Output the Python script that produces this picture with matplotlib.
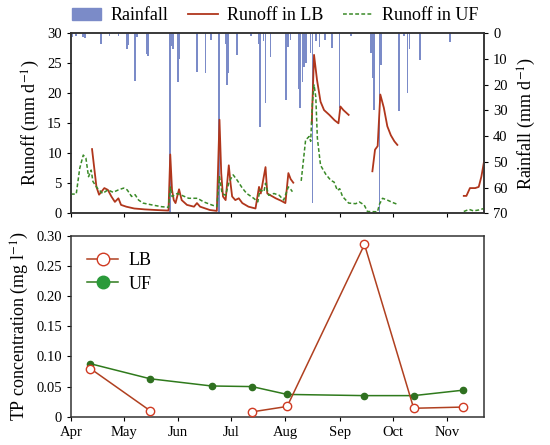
import numpy as np
import pandas as pd
import matplotlib
matplotlib.use("Agg")
import matplotlib.pyplot as plt
import matplotlib.dates as mdates
from matplotlib.lines import Line2D
from matplotlib.patches import Patch

plt.rcParams['font.family'] = ['Liberation Serif', 'DejaVu Serif']
plt.rcParams['mathtext.fontset'] = 'stix'

start = pd.Timestamp('2015-04-01')

# daily rainfall (days after Apr 1, mm)
rain_days = [1, 3, 7, 8, 17, 22, 27, 32, 32.6, 36.5, 37.7, 43, 44, 56.5, 57.4, 58.2, 60.8, 61.6,
             71.7, 76.5, 79.6, 84.3, 87.9, 88.8, 89.6, 94.6, 102.5, 106.7, 107.7, 109.6, 110.7,
             113.6, 122.4, 123.5, 125, 129.7, 130.4, 131.7, 132.6, 133.6, 136.4, 137.4, 139.3,
             141.3, 144.6, 148.6, 152.7, 159.2, 170.7, 171.6, 172.5, 175.5, 176.4, 186.5, 189.5,
             191.5, 192.6, 198.6, 215.5]
rain_mm = [1.5, 1.0, 1.3, 2.0, 4.3, 1.0, 1.0, 6.0, 4.5, 18.4, 1.5, 8.0, 9.0, 75, 5, 6, 19, 10,
           15, 15.5, 2.5, 75, 4, 20, 15.6, 8.4, 1, 4, 36.3, 3, 27,
           9.3, 26, 5.2, 2.5, 21.5, 29, 18.8, 13, 11.7, 7.8, 66, 3,
           5.2, 2.6, 5.8, 29, 1, 7.8, 17.5, 30, 75, 12.3, 30.4, 1,
           23.3, 6, 10.4, 3.2]

# runoff in LB (nan = no data)
lb_days = [12, 14.5, 16, 19, 21, 23, 25, 27, 28.5, 31.5, 36, 42, 48, 55.5, 56.5, 57.5, 58.5, 59.5,
           61.5, 63, 66, 70, 71.7, 73.5, 76.5, 79, 83, 84.5, 85.5, 86.5, 88, 89.8, 90.8, 91.7,
           93.5, 95.5, 97.5, 101, 105, 107, 108, 110.7, 111.7, 113.5, 116.5, 119.5, 122, 123.7,
           125, 126.5, 130,
           137, 138.3, 140, 142, 144, 147, 150, 152.2, 153.3, 155, 158, 165,
           171.5, 173, 174.5, 176, 178, 180, 182, 184, 185.7, 200,
           223.5, 225, 227, 230, 232, 233.5, 235]
lb_runoff = [10.7, 4.4, 3.1, 4.2, 3.9, 2.8, 1.9, 2.5, 1.4, 1.1, 0.8, 0.65, 0.55, 0.45, 9.8, 3.9, 2.2, 1.7,
             4.0, 2.2, 1.4, 1.1, 1.7, 1.1, 0.8, 0.55, 0.4, 15.6, 6.7, 2.8, 2.2, 8.0, 5.0, 2.8,
             2.2, 2.5, 1.7, 1.1, 0.8, 4.4, 3.3, 7.7, 3.3, 3.0, 2.5, 2.1, 1.7, 6.7,
             5.7, 5.1, np.nan,
             15.0, 26.4, 22.2, 18.6, 17.2, 16.4, 15.5, 15.0, 17.8, 17.2, 16.4, np.nan,
             7.0, 10.6, 11.2, 19.8, 17.6, 14.5, 13.0, 12.0, 11.4, np.nan,
             2.9, 2.9, 4.2, 4.2, 4.4, 6.1, 8.6]

# runoff in UF (nan = no data)
uf_days = [0, 3, 5, 7, 8.5, 10, 11.5, 12.5, 15, 18, 21, 24, 27, 30, 32, 34.5, 36.5, 38.5, 41, 46,
           51.5, 55.5, 56.5, 57.5, 60.5, 63, 67, 72, 75.5, 80, 83, 84.5, 86, 88, 90, 92.3, 94.6,
           97.5, 100, 104, 106.3, 107.5, 109.8, 110.7, 112.5, 115.5, 118.5, 121, 123.7, 125, 126,
           128,
           131, 133.5, 135.5, 136.4, 137.4, 138.3, 139.3, 140.2, 142, 145, 147.8, 149.7, 151.6,
           152.9, 154.5, 158, 162, 164, 166.8, 168.7, 174.4, 175.5, 177.3, 180, 183, 185.7, 200,
           223.5, 226.5, 229, 232, 235]
uf_runoff = [3.2, 3.2, 7.5, 9.7, 9.2, 6.1, 7.2, 5.3, 4.2, 3.3, 3.9, 3.5, 3.9, 4.2, 3.9, 2.8, 3.1, 2.2, 1.7, 1.4,
             1.1, 1.0, 4.4, 2.8, 3.3, 3.0, 2.5, 2.5, 1.9, 1.4, 1.1, 6.1, 3.3, 3.0, 5.3, 6.4, 5.5,
             4.2, 3.3, 2.5, 1.9, 3.9, 3.6, 5.0, 3.0, 3.3, 3.0, 2.2, 4.4, 4.0, 3.6,
             np.nan,
             5.4, 12.2, 12.8, 12.0, 18.5, 21.4, 19.4, 12.5, 8.0, 6.5, 5.5, 5.2, 3.8,
             4.1, 2.8, 1.7, 1.6, 1.9, 1.4, 0.3, 0.25, 1.5, 2.5, 2.2, 1.8, 1.5, np.nan,
             0.3, 0.65, 0.4, 0.55, 0.8]

# TP concentration samples
tp_dates = ['2015-04-12', '2015-05-16', '2015-06-20', '2015-07-13', '2015-08-02',
            '2015-09-15', '2015-10-13', '2015-11-10']
tp_lb = [0.080, 0.010, np.nan, 0.008, 0.017, 0.286, 0.014, 0.016]
tp_uf = [0.088, 0.063, 0.051, 0.050, 0.037, 0.035, 0.035, 0.044]

lb_col = '#b0361c'
uf_col = '#3a8a28'
rain_col = '#7b8bc8'


def to_dates(days):
    return start + pd.to_timedelta(np.array(days, dtype=float), unit='D')


fig = plt.figure(figsize=(5.5, 4.45), dpi=100)
ax1 = fig.add_axes([0.129, 0.5207, 0.751, 0.4045])
ax3 = fig.add_axes([0.129, 0.0636, 0.751, 0.406])

# rainfall on the right axis, inverted
ax2 = ax1.twinx()
ax2.bar(to_dates(rain_days), rain_mm, width=0.9, color=rain_col, zorder=1)
ax2.set_ylim(70, 0)
ax2.set_yticks(range(0, 71, 10))
ax2.set_ylabel('Rainfall (mm d$^{-1}$)', fontsize=13, labelpad=6)
ax1.set_zorder(ax2.get_zorder() + 1)
ax1.patch.set_visible(False)

ax1.plot(to_dates(lb_days), lb_runoff, color=lb_col, lw=1.3)
ax1.plot(to_dates(uf_days), uf_runoff, color=uf_col, lw=1.1, ls=(0, (2.5, 1.5)))
ax1.set_ylim(0, 30)
ax1.set_yticks(range(0, 31, 5))
ax1.set_ylabel('Runoff (mm d$^{-1}$)', fontsize=13, labelpad=4)

tp_x = pd.to_datetime(tp_dates)
ax3.plot(tp_x, tp_uf, color='#2f7a1c', lw=1.1, marker='o', ms=4.5,
         mfc='#2f7020', mec='#2f7020', label='UF', zorder=2)
ax3.plot(tp_x, tp_lb, color='#b04020', lw=1.1, marker='o', ms=6,
         mfc='white', mec='#d03a22', mew=1.0, label='LB', zorder=3)
ax3.set_ylim(0, 0.30)
ax3.set_yticks([0, 0.05, 0.10, 0.15, 0.20, 0.25, 0.30])
ax3.set_yticklabels(['0', '0.05', '0.10', '0.15', '0.20', '0.25', '0.30'])
ax3.set_ylabel('TP concentration (mg l$^{-1}$)', fontsize=13, labelpad=4)

leg_handles = [Line2D([], [], color='#b04020', lw=1.1, marker='o', ms=9, mfc='white', mec='#d03a22'),
               Line2D([], [], color='#2f7a1c', lw=1.1, marker='o', ms=9, mfc='#2a9a3a', mec='#2a9a3a')]
ax3.legend(leg_handles, ['LB', 'UF'], loc='upper left', frameon=False, fontsize=13,
           handlelength=1.7, handletextpad=0.6, bbox_to_anchor=(0.0, 1.0),
           borderaxespad=0.5, labelspacing=0.35)

months = pd.date_range('2015-04-01', '2015-11-01', freq='MS')
for ax in (ax1, ax3):
    ax.set_xlim(start, start + pd.Timedelta(days=235))
    ax.set_xticks(months)
    ax.xaxis.set_major_formatter(mdates.DateFormatter('%b'))
    ax.tick_params(direction='out', length=3, labelsize=10.5)
    for s in ax.spines.values():
        s.set_linewidth(1.1)
        s.set_color('#333333')
ax1.tick_params(axis='x', labelbottom=False)
ax2.tick_params(direction='out', length=3, labelsize=10.5)
for s in ax2.spines.values():
    s.set_linewidth(1.1)
    s.set_color('#333333')

top_handles = [Patch(color=rain_col),
               Line2D([], [], color=lb_col, lw=1.3),
               Line2D([], [], color=uf_col, lw=1.1, ls=(0, (2.5, 1.5)))]
fig.legend(top_handles, ['Rainfall', 'Runoff in LB', 'Runoff in UF'], loc='upper center',
           bbox_to_anchor=(0.5, 1.02), ncol=3, frameon=False, fontsize=13,
           handlelength=1.65, columnspacing=1.1, handletextpad=0.5)

fig.savefig('out.png', dpi=100)
